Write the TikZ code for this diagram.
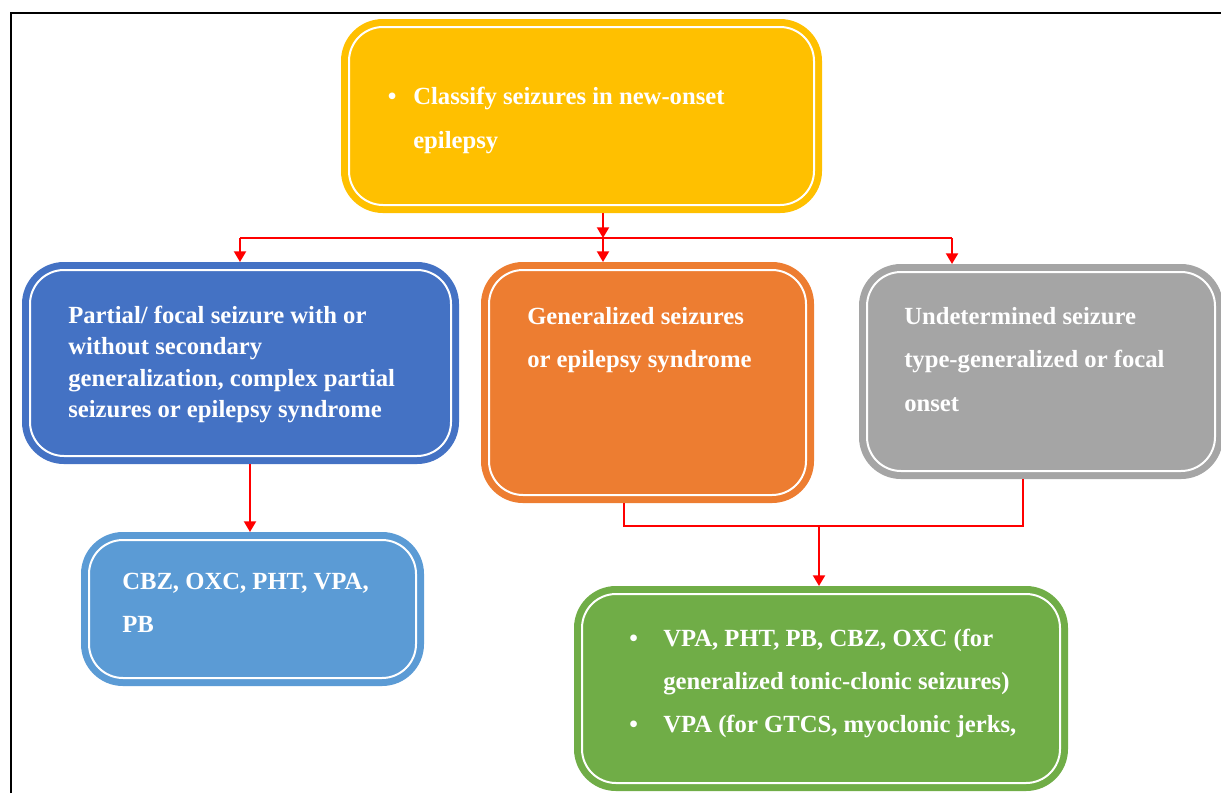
\documentclass[tikz,border=0pt]{standalone}
\usepackage{fontspec}
\setmainfont{Liberation Serif}
\usetikzlibrary{arrows.meta}
\definecolor{cyel}{HTML}{FFC000}
\definecolor{cblu}{HTML}{4472C4}
\definecolor{corg}{HTML}{ED7D31}
\definecolor{cgry}{HTML}{A5A5A5}
\definecolor{clbl}{HTML}{5B9BD5}
\definecolor{cgrn}{HTML}{70AD47}
\tikzset{
  pill/.style={rectangle, rounded corners=25.5pt, fill=#1, draw=white, line width=1.5pt,
    outer sep=6pt, inner sep=0pt, preaction={draw=#1, line width=12pt}},
  txt/.style={anchor=north west, align=left, text=white, inner sep=0pt,
    font=\bfseries\fontsize{18.5}{#1}\selectfont},
  stem/.style={red, line width=1.5pt, -{Triangle[length=8pt,width=9pt]}},
  wire/.style={red, line width=0.9pt}
}
\newcommand{\dotitem}[1]{\llap{•\hspace{#1}}}
\begin{document}
\begin{tikzpicture}[x=0.75pt,y=-0.75pt]
\useasboundingbox (0,0) rectangle (1221,793);
\draw[line width=1.5pt] (11,793) -- (11,13) -- (1221,13);

\node[pill=cyel, minimum width=348.75pt, minimum height=133.5pt] (yel) at (581.5,116) {};
\node[pill=cblu, minimum width=315.75pt, minimum height=139.5pt] (blu) at (240.5,363) {};
\node[pill=corg, minimum width=237.75pt, minimum height=168.75pt] (org) at (647.5,382.5) {};
\node[pill=cgry, minimum width=261pt, minimum height=149.25pt] (gry) at (1041,371.5) {};
\node[pill=clbl, minimum width=245.25pt, minimum height=103.5pt] (lbl) at (252.5,609) {};
\node[pill=cgrn, minimum width=358.5pt, minimum height=141.75pt] (grn) at (821,688.5) {};

\node[txt=33pt] (yeltxt) at (413,87) {\dotitem{12.5pt}Classify seizures in new-onset\\epilepsy};
\node[txt=23.5pt] (blutxt) at (68,306) {Partial/ focal seizure with or\\without secondary\\generalization, complex partial\\seizures or epilepsy syndrome};
\node[txt=32.3pt] (orgtxt) at (527,307) {Generalized seizures\\or epilepsy syndrome};
\node[txt=32.5pt] (grytxt) at (904,307) {Undetermined seizure\\type-generalized or focal\\onset};
\node[txt=32.3pt] (lbltxt) at (122,573) {CBZ, OXC, PHT, VPA,\\PB};
\node[txt=32.3pt] (grntxt) at (663,629) {\dotitem{19pt}VPA, PHT, PB, CBZ, OXC (for\\generalized tonic-clonic seizures)\\\dotitem{19pt}VPA (for GTCS, myoclonic jerks,};

\coordinate (hub) at (603,238);
\coordinate (hubL) at (240,238);
\coordinate (hubR) at (952,238);
\coordinate (dropL) at (250,0);
\coordinate (joinL) at (624,526);
\coordinate (joinR) at (1023,526);
\coordinate (join) at (819,526);

\draw[stem] (yel.south -| hub) -- (hub);
\draw[wire] (hubL) -- (hubR);
\draw[stem] (hubL) -- (blu.north -| hubL);
\draw[stem] (hub) -- (org.north -| hub);
\draw[stem] (hubR) -- (gry.north -| hubR);
\draw[stem] (blu.south -| dropL) -- (lbl.north -| dropL);
\draw[wire] (org.south -| joinL) -- (joinL) -- (joinR) -- (gry.south -| joinR);
\draw[stem] (join) -- (grn.north -| join);
\end{tikzpicture}
\end{document}
